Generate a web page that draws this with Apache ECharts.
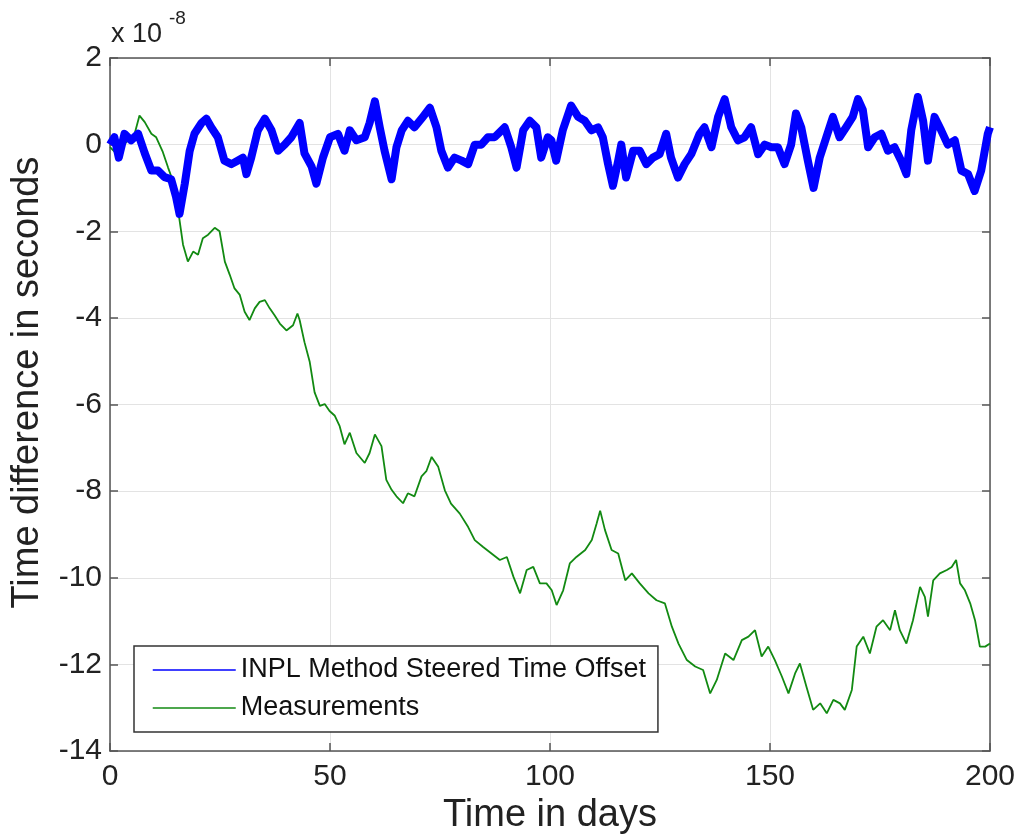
<!DOCTYPE html>
<html>
<head>
<meta charset="utf-8">
<script src="https://cdn.jsdelivr.net/npm/echarts@6/dist/echarts.min.js"></script>
<style>
html,body{margin:0;padding:0;background:#fff;}
#c{width:1020px;height:834px;}
</style>
</head>
<body>
<div id="c"></div>
<script>
// values in units of 1e-8 seconds
const blueDays = [0,1,2,3.3,4.8,6.4,7.9,9.4,10.9,12.4,13.9,15,15.8,17,18.1,19.2,20.8,21.9,23,24.5,26,27.6,29,30.2,31,32.1,33.6,35.2,36.7,38.2,39.7,41.2,43.1,44.2,45.8,46.9,48.4,50,51.8,53.3,54.5,56,57.9,59,60.2,61.3,62.4,64,65.1,66.3,67.7,69.2,71.1,72.7,74.2,75.3,76.8,78.3,79.9,81.4,82.9,84.4,85.9,87.4,89.7,91.2,92.4,93.9,95.4,96.9,98,99.5,100.3,101.4,102.9,104.8,106.4,107.9,109.4,110.9,112,113.2,114.3,115.5,116.2,117.3,118.9,120.4,121.9,123.4,124.9,126.4,127.5,129.1,130.6,132.1,134,135.1,136.7,138.2,139.7,141.2,142.7,144.2,145.7,147.3,148.8,150.3,151.8,153.3,154.8,155.9,157.1,158.6,159.9,161.3,162.8,164.3,165.8,167.3,168.8,170,171.1,172.3,173.8,175.3,176.8,178.3,179.8,181,182.1,183.6,184.8,185.9,187.4,188.9,190.4,192,193.5,195,196.5,198,199.5,200];
const blueValues = [0.0,0.17,-0.3,0.25,0.1,0.25,-0.2,-0.6,-0.6,-0.75,-0.8,-1.2,-1.6,-0.9,-0.15,0.25,0.5,0.6,0.4,0.17,-0.37,-0.45,-0.37,-0.3,-0.68,-0.3,0.33,0.6,0.33,-0.14,0.0,0.17,0.5,-0.2,-0.5,-0.9,-0.3,0.17,0.25,-0.14,0.33,0.1,0.17,0.5,1.0,0.4,-0.14,-0.8,-0.06,0.33,0.55,0.4,0.64,0.85,0.4,-0.14,-0.53,-0.3,-0.37,-0.45,0.0,0.0,0.17,0.17,0.4,-0.06,-0.53,0.33,0.55,0.4,-0.3,0.17,0.1,-0.37,0.33,0.9,0.64,0.55,0.33,0.4,0.17,-0.45,-0.95,-0.37,0.0,-0.76,-0.14,-0.14,-0.45,-0.3,-0.22,0.25,-0.3,-0.76,-0.45,-0.22,0.25,0.4,-0.06,0.64,1.05,0.4,0.1,0.17,0.4,-0.22,0.0,-0.06,-0.06,-0.45,0.0,0.72,0.4,-0.37,-1.0,-0.3,0.17,0.64,0.17,0.4,0.64,1.05,0.8,-0.06,0.17,0.25,-0.14,-0.06,-0.37,-0.68,0.33,1.1,0.55,-0.37,0.64,0.33,0.0,0.1,-0.6,-0.68,-1.07,-0.6,0.25,0.4];

const greenDays = [0,1.4,2.6,4.1,5.6,6.7,7.9,9.4,10.5,12,13.2,14.3,15.1,15.6,16.6,17.7,18.9,20,21.1,22.3,23.8,24.9,26.1,27.2,28.3,29.5,30.6,31.7,32.9,34,35.2,36.3,37.4,38.6,40.1,41.6,42.6,43.1,44.2,45.4,46.5,47.7,48.8,49.9,51.1,52.2,53.3,54.5,56,57.9,59,60.2,61.7,62.8,64,65.1,66.6,67.7,69.2,70.8,71.9,73.1,74.6,76.1,77.5,79.5,81.4,82.9,84.8,86.7,88.6,90.2,91.7,93.2,94.7,96.2,97.7,99.2,100.4,101.5,103,104.5,106,108,109.5,110.6,111.4,112.5,114,115.5,117.1,118.6,120.4,122.4,124.2,126.1,127.7,129.2,131.1,133,134.8,136.4,137.9,139.8,141.7,143.6,145.1,146.6,148.1,149.6,151.1,152.7,154.2,155.7,156.8,158.3,159.8,161.4,162.9,164.4,165.9,167,168.6,169.7,171.2,172.7,174.2,175.7,177.3,178.4,179.5,181,182.5,184.1,185.2,185.9,187.1,188.6,190.2,191.3,192.3,193.2,194.3,195.5,196.6,197.7,198.9,200];
const greenValues = [-0.06,-0.2,-0.06,0.1,0.25,0.67,0.52,0.25,0.17,-0.17,-0.53,-0.84,-1.2,-1.6,-2.31,-2.7,-2.47,-2.54,-2.16,-2.08,-1.92,-2.0,-2.7,-3.0,-3.32,-3.47,-3.86,-4.05,-3.78,-3.63,-3.59,-3.78,-3.94,-4.13,-4.29,-4.17,-3.9,-4.05,-4.56,-5.02,-5.72,-6.03,-5.99,-6.15,-6.26,-6.5,-6.92,-6.65,-7.12,-7.35,-7.12,-6.69,-6.96,-7.74,-7.97,-8.12,-8.28,-8.05,-8.12,-7.66,-7.54,-7.21,-7.44,-7.98,-8.29,-8.52,-8.83,-9.13,-9.29,-9.44,-9.59,-9.52,-9.98,-10.36,-9.82,-9.75,-10.13,-10.13,-10.29,-10.63,-10.29,-9.67,-9.52,-9.36,-9.13,-8.75,-8.45,-8.9,-9.36,-9.44,-10.06,-9.9,-10.13,-10.36,-10.52,-10.59,-11.13,-11.52,-11.9,-12.05,-12.13,-12.67,-12.36,-11.75,-11.9,-11.44,-11.36,-11.21,-11.82,-11.59,-11.9,-12.28,-12.67,-12.21,-11.98,-12.52,-13.05,-12.9,-13.13,-12.82,-12.9,-13.05,-12.59,-11.59,-11.36,-11.75,-11.13,-10.98,-11.21,-10.75,-11.21,-11.52,-10.98,-10.21,-10.44,-10.9,-10.06,-9.9,-9.82,-9.75,-9.59,-10.13,-10.29,-10.59,-10.98,-11.59,-11.59,-11.52];

const seriesNames = ['INPL Method Steered Time Offset', 'Measurements'];
const xTitle = 'Time in days';
const yTitle = 'Time difference in seconds';

const FONT = 'Liberation Sans, Arial, Helvetica, sans-serif';
const pair = (xs, ys) => xs.map((x, i) => [x, ys[i]]);

const chart = echarts.init(document.getElementById('c'));
const axisLineStyle = { color: '#555', width: 1.5 };
chart.setOption({
  backgroundColor: '#fff',
  animation: false,
  grid: { left: 110, right: 30, top: 58, bottom: 83, containLabel: false, outerBoundsMode: 'none' },
  xAxis: [{
    type: 'value', min: 0, max: 200, interval: 50, position: 'bottom',
    name: xTitle, nameLocation: 'middle', nameGap: 41,
    nameTextStyle: { fontFamily: FONT, fontSize: 38, color: '#222' },
    axisLine: { show: true, onZero: false, lineStyle: axisLineStyle },
    axisTick: { show: true, inside: true, length: 8, lineStyle: axisLineStyle },
    axisLabel: { fontFamily: FONT, fontSize: 30, color: '#222', margin: 11 },
    splitLine: { show: true, lineStyle: { color: '#e3e3e3', width: 1 } }
  }, {
    type: 'value', min: 0, max: 200, interval: 50, position: 'top',
    axisLine: { show: true, onZero: false, lineStyle: axisLineStyle },
    axisTick: { show: true, inside: true, length: 8, lineStyle: axisLineStyle },
    axisLabel: { show: false }, splitLine: { show: false }
  }],
  yAxis: [{
    type: 'value', min: -14, max: 2, interval: 2, position: 'left',
    name: yTitle, nameLocation: 'middle', nameGap: 63,
    nameTextStyle: { fontFamily: FONT, fontSize: 38, color: '#222', padding: [0, 0, 0, 44] },
    axisLine: { show: true, onZero: false, lineStyle: axisLineStyle },
    axisTick: { show: true, inside: true, length: 8, lineStyle: axisLineStyle },
    axisLabel: { fontFamily: FONT, fontSize: 30, color: '#222', margin: 8 },
    splitLine: { show: true, lineStyle: { color: '#e3e3e3', width: 1 } }
  }, {
    type: 'value', min: -14, max: 2, interval: 2, position: 'right',
    axisLine: { show: true, onZero: false, lineStyle: axisLineStyle },
    axisTick: { show: true, inside: true, length: 8, lineStyle: axisLineStyle },
    axisLabel: { show: false }, splitLine: { show: false }
  }],
  legend: {
    orient: 'vertical', left: 134, top: 646,
    padding: [10, 12, 10, 18],
    itemWidth: 83, itemHeight: 14, itemGap: 10,
    backgroundColor: '#fff', borderColor: '#333', borderWidth: 1.5, borderRadius: 0,
    textStyle: { fontFamily: FONT, fontSize: 27, color: '#111', lineHeight: 28 },
    lineStyle: { width: 1.5 },
    itemStyle: { opacity: 0 },
    data: seriesNames
  },
  graphic: [
    { type: 'text', left: 111, top: 21, style: { text: 'x 10', font: '27px ' + FONT, fill: '#222' } },
    { type: 'text', left: 169, top: 9, style: { text: '-8', font: '19px ' + FONT, fill: '#222' } }
  ],
  series: [{
    name: seriesNames[0], type: 'line', showSymbol: false, symbol: 'none',
    data: pair(blueDays, blueValues),
    lineStyle: { color: '#0000ff', width: 8, join: 'round' }, itemStyle: { color: '#0000ff' }, z: 3
  }, {
    name: seriesNames[1], type: 'line', showSymbol: false, symbol: 'none',
    data: pair(greenDays, greenValues),
    lineStyle: { color: '#128a12', width: 1.8 }, itemStyle: { color: '#128a12' }, z: 2
  }]
});
</script>
</body>
</html>
